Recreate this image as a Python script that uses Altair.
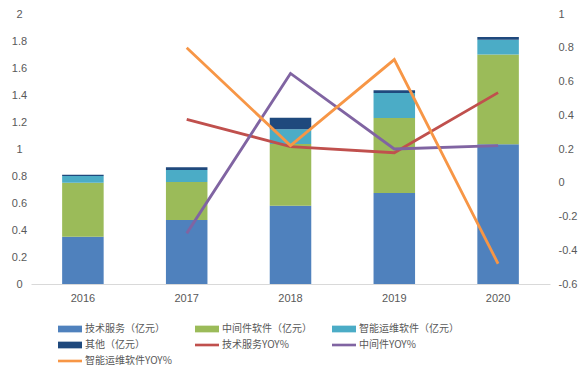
import altair as alt
import pandas as pd

years = ["2016", "2017", "2018", "2019", "2020"]
tech = [0.35, 0.475, 0.58, 0.675, 1.035]
mid = [0.40, 0.28, 0.457, 0.555, 0.665]
ops = [0.05, 0.09, 0.11, 0.185, 0.11]
other = [0.01, 0.02, 0.085, 0.02, 0.02]

yoy_years = ["2017", "2018", "2019", "2020"]
tech_yoy = [0.376, 0.214, 0.178, 0.534]
mid_yoy = [-0.30, 0.648, 0.20, 0.22]
ops_yoy = [0.80, 0.22, 0.73, -0.48]

bar_names = ["技术服务（亿元）", "中间件软件（亿元）", "智能运维软件（亿元）", "其他（亿元）"]
line_names = ["技术服务YOY%", "中间件YOY%", "智能运维软件YOY%"]
all_names = bar_names + line_names
colors = ["#4F81BD", "#9BBB59", "#4BACC6", "#1F497D", "#C0504D", "#8064A2", "#F79646"]
bar_sym = "M-2,-0.56H2V0.56H-2Z"
line_sym = "M-2,-0.22H2V0.22H-2Z"
shapes = [bar_sym] * 4 + [line_sym] * 3

bar_rows = []
for i, (name, vals) in enumerate(zip(bar_names, [tech, mid, ops, other])):
    for y, v in zip(years, vals):
        bar_rows.append({"year": y, "series": name, "value": v, "idx": i})
bar_df = pd.DataFrame(bar_rows)

line_rows = []
for name, vals in zip(line_names, [tech_yoy, mid_yoy, ops_yoy]):
    for y, v in zip(yoy_years, vals):
        line_rows.append({"year": y, "series": name, "yoy": v})
line_df = pd.DataFrame(line_rows)

legend_df = pd.DataFrame({"series": all_names})

TXT = "#595959"

x_enc = alt.X(
    "year:N",
    scale=alt.Scale(domain=years, paddingInner=0.6, paddingOuter=0.3),
    axis=alt.Axis(title=None, labelAngle=0, ticks=False, domainColor="#D9D9D9",
                  labelColor=TXT, labelFontSize=11, labelPadding=8),
)

color_scale = alt.Scale(domain=all_names, range=colors)
shape_scale = alt.Scale(domain=all_names, range=shapes)

leg = alt.Legend(
    title=None, orient="none", direction="horizontal", legendX=33, legendY=309,
    columns=3, gridAlign="all",
    columnPadding=10, rowPadding=5, labelFontSize=10, labelColor=TXT,
    labelFont="Noto Sans CJK SC", symbolStrokeWidth=0, symbolSize=144,
    labelOffset=9, padding=0,
)

bars = alt.Chart(bar_df).mark_bar().encode(
    x=x_enc,
    y=alt.Y("value:Q", stack="zero",
            scale=alt.Scale(domain=[0, 2], nice=False),
            axis=alt.Axis(title=None, values=[0, 0.2, 0.4, 0.6, 0.8, 1, 1.2, 1.4, 1.6, 1.8, 2],
                          labelExpr="toString(round(datum.value*10)/10)",
                          domain=False, ticks=False, grid=False, labelAlign="center",
                          labelPadding=12, labelColor=TXT, labelFontSize=11)),
    color=alt.Color("series:N", scale=color_scale, legend=leg),
    order=alt.Order("idx:Q"),
)

lines = alt.Chart(line_df).mark_line(strokeWidth=2.8).encode(
    x=x_enc,
    y=alt.Y("yoy:Q",
            scale=alt.Scale(domain=[-0.6, 1], nice=False),
            axis=alt.Axis(title=None, orient="right",
                          values=[-0.6, -0.4, -0.2, 0, 0.2, 0.4, 0.6, 0.8, 1],
                          labelExpr="toString(round(datum.value*10)/10)",
                          domain=False, ticks=False, grid=False, labelAlign="left",
                          labelPadding=8, labelColor=TXT, labelFontSize=11)),
    color=alt.Color("series:N", scale=color_scale, legend=leg),
)

pts = alt.Chart(legend_df).mark_point(filled=True, opacity=1).encode(
    color=alt.Color("series:N", scale=color_scale, legend=leg),
    shape=alt.Shape("series:N", scale=shape_scale, legend=leg),
).transform_filter("false")

chart = alt.layer(bars, lines, pts).resolve_scale(y="independent").properties(
    width=519, height=270,
    autosize=alt.AutoSizeParams(type="none"),
    padding={"left": 23, "top": 6, "right": 30, "bottom": 83},
).configure_view(stroke=None).configure_axis(
    labelFont="Liberation Sans"
)

chart.save("out.html", embed_options={"renderer": "svg", "actions": False})
